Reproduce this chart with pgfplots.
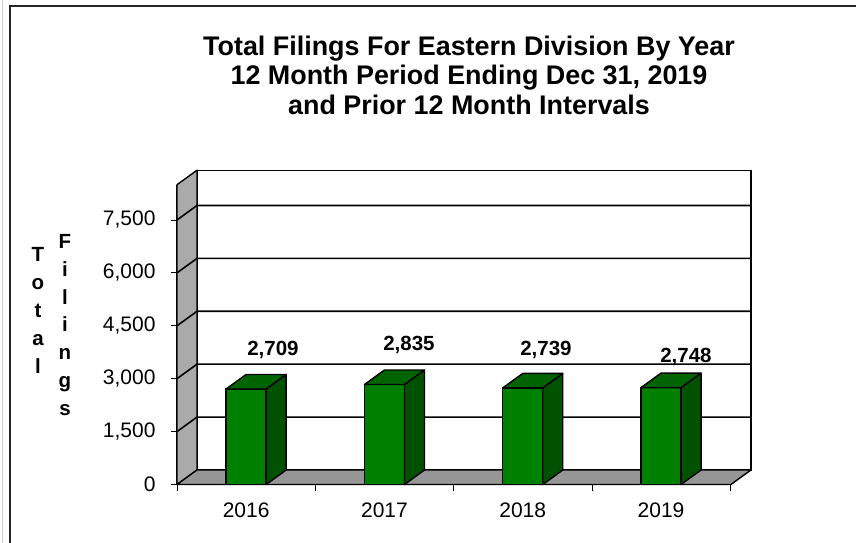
\documentclass[border=0pt]{standalone}
\usepackage{fontspec}
\setmainfont{Liberation Sans}
\usepackage{pgfplots}
\usepackage{pgfplotstable}
\pgfplotsset{compat=1.18}
\definecolor{barfront}{RGB}{0,128,0}
\definecolor{bartop}{RGB}{0,100,0}
\definecolor{barside}{RGB}{0,82,0}
\definecolor{wallgray}{RGB}{170,170,170}
\definecolor{floorgray}{RGB}{150,150,150}
\pgfplotstableread{
x v
0.5 2709
1.5 2835
2.5 2739
3.5 2748
}\filings
\begin{document}
\begin{tikzpicture}
\useasboundingbox (0,0) rectangle (856pt,-543pt);
\draw[black!20, line width=0.8pt] (2pt,-543pt) -- (2pt,0pt);
\draw[black!85, line width=1.3pt] (10pt,-543pt) -- (10pt,-6pt) -- (856pt,-6pt);
\node[font=\bfseries\fontsize{26.9}{29.5}\selectfont, align=center, anchor=north, inner sep=0pt]
  at (469pt,-35.5pt) {Total Filings For Eastern Division By Year\\12 Month Period Ending Dec 31, 2019\\and Prior 12 Month Intervals};
\node[font=\bfseries\fontsize{20.5}{28}\selectfont, align=center, anchor=north, inner sep=0pt]
  at (38pt,-247.5pt) {T\\o\\t\\a\\l};
\node[font=\bfseries\fontsize{20.5}{27.7}\selectfont, align=center, anchor=north, inner sep=0pt]
  at (65pt,-234.5pt) {F\\i\\l\\i\\n\\g\\s};
\begin{axis}[
  at={(177pt,-484.5pt)}, anchor=south west,
  scale only axis, width=553.2pt, height=299.8pt,
  xmin=0, xmax=4, ymin=0, ymax=8500,
  clip=false,
  axis x line*=bottom, axis y line*=left,
  axis line style={black, line width=1.6pt, -},
  xtick={0,1,2,3,4}, xticklabels={2016,2017,2018,2019}, x tick label as interval,
  ytick={0,1500,3000,4500,6000,7500},
  yticklabels={0,{1,500},{3,000},{4,500},{6,000},{7,500}},
  tick align=outside, major tick length=6pt,
  tick style={black, line width=0.8pt},
  ticklabel style={font=\fontsize{21}{21}\selectfont},
  xticklabel style={yshift=-9pt},
  yticklabel style={xshift=-12pt},
]
% walls
\fill[white, draw=black, line width=1.4pt] (axis cs:0.1446,411.1) rectangle (axis cs:4.15,8911);
\fill[wallgray, draw=black, line width=1.4pt, line join=round] (axis cs:0,0) -- (axis cs:0.1446,411.1) -- (axis cs:0.1446,8911) -- (axis cs:0,8500) -- cycle;
\fill[floorgray, draw=black, line width=1.4pt, line join=round] (axis cs:0,0) -- (axis cs:4.005,0) -- (axis cs:4.15,411.1) -- (axis cs:0.1446,411.1) -- cycle;
% gridlines
\draw[black, line width=1.6pt] (axis cs:0,1500) -- (axis cs:0.1446,1911.1) -- (axis cs:4.15,1911.1);
\draw[black, line width=1.6pt] (axis cs:0,3000) -- (axis cs:0.1446,3411.1) -- (axis cs:4.15,3411.1);
\draw[black, line width=1.6pt] (axis cs:0,4500) -- (axis cs:0.1446,4911.1) -- (axis cs:4.15,4911.1);
\draw[black, line width=1.6pt] (axis cs:0,6000) -- (axis cs:0.1446,6411.1) -- (axis cs:4.15,6411.1);
\draw[black, line width=1.6pt] (axis cs:0,7500) -- (axis cs:0.1446,7911.1) -- (axis cs:4.15,7911.1);
% bars: front faces
\addplot[ybar, bar width=0.289, fill=barfront, draw=black, line width=1.4pt] table[x=x,y=v]{\filings};
% bars: side and top faces
\addplot[scatter, only marks, mark=*, mark size=0pt, mark options={draw=none,fill=none},
  visualization depends on={\thisrow{v}*0.035267 \as \hpt},
  scatter/@pre marker code/.code={
    \fill[barside, draw=black, line width=1.4pt, line join=round] (20pt,0pt) -- (40pt,14.5pt) -- (40pt,{(14.5-\hpt)*1pt}) -- (20pt,{-\hpt*1pt}) -- cycle;
    \fill[bartop, draw=black, line width=1.4pt, line join=round] (-20pt,0pt) -- (20pt,0pt) -- (40pt,14.5pt) -- (0pt,14.5pt) -- cycle;
  },
  scatter/@post marker code/.code={},
] table[x=x,y=v]{\filings};
% value labels
\node[font=\bfseries\fontsize{20.5}{20.5}\selectfont] at (axis cs:0.694,3814) {2,709};
\node[font=\bfseries\fontsize{20.5}{20.5}\selectfont] at (axis cs:1.677,3956) {2,835};
\node[font=\bfseries\fontsize{20.5}{20.5}\selectfont] at (axis cs:2.668,3814) {2,739};
\node[font=\bfseries\fontsize{20.5}{20.5}\selectfont] at (axis cs:3.680,3615) {2,748};
\end{axis}
\end{tikzpicture}
\end{document}
